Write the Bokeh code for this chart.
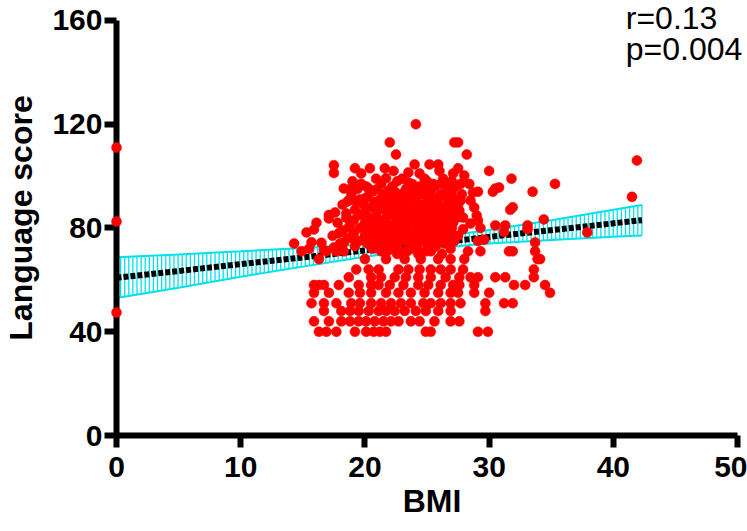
import numpy as np
from bokeh.plotting import figure
from bokeh.models import Range1d, Label, FixedTicker
from bokeh.embed import file_html
from bokeh.resources import INLINE

# ---------------- data ----------------
x_ticks = [0, 10, 20, 30, 40, 50]
y_ticks = [0, 40, 80, 120, 160]

zero_bmi = [0, 0, 0]
zero_score = [111, 82.5, 47.4]

# discrete lower score rows: score -> BMI values
row_scores = [40, 44, 48, 51, 55, 58, 61, 64, 68, 71]
row_bmis = [
    [16.3, 16.9, 17.7, 19.2, 20.1, 20.7, 21.2, 21.7, 24.9, 25.3, 29.1, 29.9],
    [15.9, 17.1, 18.1, 18.8, 19.5, 20.1, 20.8, 21.5, 22.1, 22.7, 23.7, 24.4, 25.6, 26.9, 27.6],
    [16.7, 18.1, 18.8, 19.5, 20.3, 21.1, 21.7, 22.4, 23.2, 24.1, 24.9, 25.9, 26.9, 29.7],
    [15.7, 16.7, 17.7, 18.9, 19.6, 20.5, 21.3, 22.1, 22.9, 23.7, 24.7, 25.3, 26.1, 26.9, 27.7, 29.7, 31.2, 31.9],
    [15.9, 17.1, 18.7, 19.6, 20.5, 21.7, 22.7, 23.7, 24.8, 25.9, 26.9, 27.5, 28.8, 30.0, 34.9],
    [15.9, 16.3, 16.7, 17.9, 19.5, 20.5, 21.1, 22.0, 23.1, 24.3, 25.1, 26.1, 27.1, 27.6, 28.8, 32.0, 32.9, 34.5],
    [18.7, 20.5, 21.3, 22.4, 23.3, 24.3, 25.3, 26.5, 27.6, 28.5, 29.1, 30.5, 31.3, 33.6],
    [19.3, 20.3, 21.1, 22.7, 23.5, 24.4, 25.3, 26.1, 26.9, 27.9, 33.6],
    [16.3, 20.0, 21.7, 23.2, 24.5, 25.9, 26.9, 28.0, 33.9, 34.1],
    [14.9, 16.9, 17.7, 18.3, 21.3, 22.9, 24.3, 25.3, 28.3, 29.3, 31.6, 31.9, 33.7],
]

# dense core of the cloud: score -> BMI values
core_scores = [99, 98, 97, 96, 95, 94, 93, 92, 91, 90, 89, 88, 87, 86, 85,
               84, 83, 82, 81, 80, 79, 78, 77, 76, 75, 74, 73, 72, 71, 70]
core_bmis = [
    [20.9, 23.0, 24.8, 26.3],
    [19.0, 22.6, 25.0, 27.0],
    [21.3, 23.8, 26.1],
    [20.1, 22.2, 24.4, 25.6, 27.3],
    [19.4, 21.0, 23.3, 24.9, 26.6],
    [20.6, 22.4, 23.9, 25.3, 27.0],
    [18.9, 21.5, 22.9, 24.6, 26.1, 27.8],
    [20.2, 21.9, 23.4, 25.0, 26.5],
    [19.6, 21.2, 22.7, 24.1, 25.7, 27.2],
    [20.8, 22.3, 23.7, 25.2, 26.8],
    [18.2, 19.9, 21.6, 23.0, 24.5, 26.0, 27.5],
    [20.5, 22.0, 23.5, 24.9, 26.4],
    [19.2, 21.1, 22.6, 24.2, 25.5, 27.0],
    [17.6, 20.0, 21.8, 23.2, 24.7, 26.2],
    [19.5, 20.9, 22.4, 23.9, 25.4, 26.8],
    [18.5, 20.3, 21.7, 23.1, 24.6, 26.0, 27.4],
    [19.1, 21.0, 22.5, 23.8, 25.2, 26.6],
    [17.8, 20.0, 21.5, 22.9, 24.4, 25.8, 27.1],
    [18.8, 20.7, 22.1, 23.5, 25.0, 26.4],
    [19.6, 21.2, 22.7, 24.2, 25.6, 27.0],
    [18.2, 20.3, 21.9, 23.3, 24.8, 26.2],
    [19.1, 20.9, 22.5, 24.0, 25.4, 26.8],
    [17.4, 20.0, 21.6, 23.0, 24.6, 26.0, 27.5],
    [18.6, 20.6, 22.2, 23.7, 25.2, 26.6],
    [19.5, 21.3, 22.9, 24.4, 25.9, 27.2],
    [18.0, 20.2, 21.9, 23.5, 25.0, 26.4],
    [19.2, 21.0, 22.6, 24.2, 25.7],
    [20.6, 22.3, 23.9, 25.4, 26.9],
    [21.8, 23.4, 24.9],
    [22.6, 24.3, 26.2],
]

# scattered points around the cloud
outer_bmi = [14.3, 15.5, 15.7, 15.3, 15.9, 16.1, 17.1, 17.1, 16.5, 16.7, 17.5, 17.9, 18.3,
             18.7, 18.5, 18.7, 17.5, 17.5,
             24.1, 22.0, 22.5, 27.2, 19.2, 19.7, 20.4, 21.6, 22.3, 21.7, 24.0, 25.2, 25.9,
             26.0, 23.5, 24.4, 27.1, 18.3, 18.8, 19.7, 20.3, 20.7, 23.5, 25.5, 26.8, 18.6,
             19.3, 20.0, 21.1, 21.9, 19.6,
             27.5, 28.2, 27.5, 28.0, 30.0, 31.8, 35.3, 33.5, 30.3, 30.5, 30.8, 31.9, 31.7,
             29.1, 41.9, 41.5, 34.4, 31.3, 30.5, 33.1, 27.7, 28.4, 28.7, 27.7, 28.5, 28.8,
             27.6, 27.9, 29.0, 29.1, 28.5,
             19.2, 20.0, 20.7, 21.3, 29.1, 29.6, 33.7, 37.9, 27.9, 29.3, 31.2, 33.1]
outer_score = [74.0, 72.0, 74.5, 78.3, 79.4, 82.0, 83.7, 85.0, 74.3, 71.5, 72.5, 78.0, 74.3,
               90.6, 85.6, 80.2, 104.2, 101.2,
               120.0, 113.0, 108.3, 113.0, 103.0, 101.0, 103.0, 103.0, 102.0, 99.2, 104.5, 104.5, 104.5,
               102.0, 101.4, 101.0, 101.0, 95.2, 95.0, 97.0, 95.2, 94.4, 97.5, 97.0, 97.0, 90.2,
               90.2, 91.4, 89.8, 94.4, 85.2,
               113.0, 108.3, 103.0, 100.2, 102.0, 99.0, 97.0, 94.0, 94.0, 95.2, 95.6, 88.0, 87.0,
               94.0, 106.0, 92.0, 83.3, 81.0, 81.0, 81.0, 97.0, 97.0, 93.7, 90.6, 90.6, 87.9,
               86.7, 84.0, 84.8, 82.9, 81.7,
               75.2, 75.2, 73.2, 72.0, 75.0, 75.5, 74.4, 78.3, 79.5, 80.0, 78.5, 79.5]

# regression line and its 95% confidence band
fit_x = [0, 42.3]
fit_y = [60.8, 83.0]
band_x = [0, 5, 10, 15, 20, 24.5, 30, 35, 40, 42.3]
band_upper = [68.7, 69.8, 71.0, 72.3, 73.7, 75.7, 79.2, 83.0, 87.0, 88.9]
band_lower = [53.0, 57.0, 61.2, 65.1, 68.9, 71.7, 74.0, 75.4, 76.6, 77.1]

stat_lines = ["r=0.13", "p=0.004"]
x_title = "BMI"
y_title = "Language score"

# ---------------- build ----------------
bmi = list(zero_bmi) + list(outer_bmi)
score = list(zero_score) + list(outer_score)
for s, xs in zip(row_scores, row_bmis):
    bmi += xs
    score += [s] * len(xs)
for s, xs in zip(core_scores, core_bmis):
    bmi += xs
    score += [s] * len(xs)

FONT = "Liberation Sans"
CYAN = "#00E1EE"

# frame spans the canvas up to its top and right edges; axes are bounded to 0-50 / 0-160
p = figure(width=747, height=531, output_backend="svg", toolbar_location=None,
           x_range=Range1d(0, 50.8), y_range=Range1d(0, 167.7),
           min_border_left=114, min_border_right=0, min_border_top=0, min_border_bottom=96)
p.background_fill_color = "white"
p.border_fill_color = "white"
p.outline_line_color = None
p.xgrid.visible = False
p.ygrid.visible = False

# confidence band: vertical hatching + edges
hx = np.linspace(band_x[0], band_x[-1], 129)
hy0 = np.interp(hx, band_x, band_lower)
hy1 = np.interp(hx, band_x, band_upper)
p.segment(x0=hx, y0=hy0, x1=hx, y1=hy1, line_color=CYAN, line_width=1.3)
p.line(band_x, band_upper, line_color=CYAN, line_width=2)
p.line(band_x, band_lower, line_color=CYAN, line_width=2)

# regression line
p.line(fit_x, fit_y, line_color="black", line_width=6, line_dash="5 2")

# points
sc = p.scatter(bmi, score, size=10, fill_color="#FF0000", line_color="#FF0000", line_width=0.5)
sc.level = "overlay"

# axes
for ax, ticks in ((p.xaxis[0], x_ticks), (p.yaxis[0], y_ticks)):
    ax.ticker = FixedTicker(ticks=ticks)
    ax.bounds = (ticks[0], ticks[-1])
    ax.axis_line_width = 6
    ax.axis_line_color = "black"
    ax.major_tick_line_width = 6
    ax.major_tick_line_color = "black"
    ax.major_tick_out = 12
    ax.major_tick_in = 0
    ax.minor_tick_out = 0
    ax.minor_tick_in = 0
    ax.major_label_text_font = FONT
    ax.major_label_text_font_style = "bold"
    ax.major_label_text_font_size = "30px"
    ax.major_label_text_color = "black"
    ax.axis_label_text_font = FONT
    ax.axis_label_text_font_style = "bold"
    ax.axis_label_text_font_size = "32px"
    ax.axis_label_text_color = "black"

p.xaxis.axis_label = x_title
p.yaxis.axis_label = y_title
p.xaxis.major_label_standoff = 9
p.xaxis.axis_label_standoff = 3
p.yaxis.major_label_standoff = 2
p.yaxis.axis_label_standoff = 10

p.add_layout(Label(x=41.0, y=161.0, text=stat_lines[0], text_font=FONT,
                   text_font_size="32px", text_color="black", text_baseline="alphabetic"))
p.add_layout(Label(x=41.0, y=149.0, text=stat_lines[1], text_font=FONT,
                   text_font_size="32px", text_color="black", text_baseline="alphabetic"))

open("out.html", "w").write(file_html(p, INLINE))
